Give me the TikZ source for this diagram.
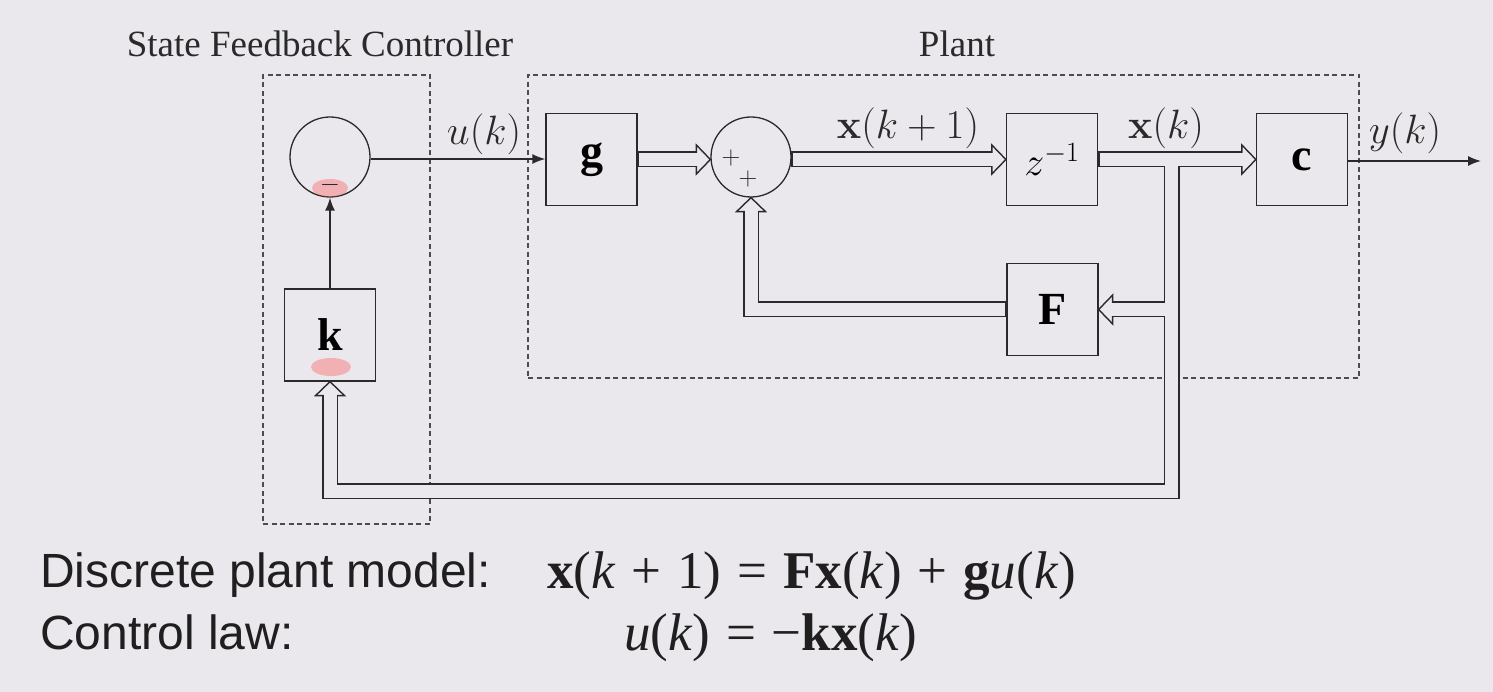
\RequirePackage{fix-cm}
\documentclass[tikz,border=0pt]{standalone}
\usepackage[no-math]{fontspec}
\setmainfont{Liberation Serif}
\newfontfamily\arialfont{Liberation Sans}
\usetikzlibrary{arrows.meta,calc}
\definecolor{bgc}{HTML}{EAE8EC}
\definecolor{ink}{HTML}{2A2A2A}
\newcommand\dhead[2]{\draw[head,shift={(#1)},rotate=#2] (0,-14.5) -- (14,0) -- (0,14.5) -- cycle;}
\newcommand\vi[1]{\textit{#1}}
\newcommand\vb[1]{\textbf{#1}}
\newcommand\op[1]{\hspace{0.3em}#1\hspace{0.3em}}
\begin{document}
\begin{tikzpicture}[x=1pt,y=-1pt,
  blk/.style={draw=ink, line width=1.3pt, minimum width=91pt, minimum height=92pt, inner sep=0pt, font=\fontsize{46}{50}\selectfont},
  sumc/.style={circle, draw=ink, line width=1.3pt, minimum size=80pt, inner sep=0pt},
  frame/.style={draw=black!70, dash pattern=on 5pt off 3.5pt, line width=1.2pt, inner sep=0pt},
  ttl/.style={font=\fontsize{37}{42}\selectfont, text=ink, anchor=base, inner sep=0pt},
  lbl/.style={font=\fontsize{41}{46}\selectfont, text=ink, inner sep=0pt},
  sig/.style={draw=ink, line width=1.5pt, -{Latex[length=13pt,width=10pt]}},
  chout/.style={draw=ink, line width=16pt, line join=miter},
  chin/.style={draw=bgc, line width=13pt, line join=miter},
  head/.style={fill=bgc, draw=ink, line width=1.4pt, line join=miter},
  bot/.style={font=\arialfont\fontsize{48}{54}\selectfont, text=black!88, anchor=base west, inner sep=0pt},
  eq/.style={font=\fontsize{53}{58}\selectfont, text=black!88, anchor=base west, inner sep=0pt},
  sgn/.style={font=\fontsize{26}{28}\selectfont, text=ink, inner sep=0pt},
  hl/.style={fill=red!70, opacity=0.35}
]
\fill[bgc] (0,0) rectangle (1493,692);

% frames
\node[frame, minimum width=167pt, minimum height=449pt] (ctl) at (346.5,299.5) {};
\node[frame, minimum width=831pt, minimum height=303pt] (plant) at (943.5,226.5) {};
\node[ttl] (tctl) at (320,57) {State Feedback Controller};
\node[ttl] (tplant) at (957,57) {Plant};

% blocks
\node[sumc] (s1) at (330,157) {};
\node[blk] (k) at (330,335) {\vb{k}};
\node[blk] (g) at (591.5,159.5) {\vb{g}};
\node[sumc] (s2) at (751,157) {};
\node[blk, font=\fontsize{40}{44}\selectfont] (z) at (1052,159.5) {$z^{-1}$};
\node[blk] (c) at (1302,159.5) {\vb{c}};
\node[blk] (F) at (1052.5,309.5) {\vb{F}};

% highlights
\fill[hl] (330,188) ellipse [x radius=18, y radius=9];
\fill[hl] (331,367) ellipse [x radius=20, y radius=9];
\node[sgn] (minus) at (330,185) {$-$};
\node[sgn] (p1) at (731,158) {$+$};
\node[sgn] (p2) at (748,179) {$+$};

% coordinates for channels
\coordinate (a1) at (s2.west |- g.east);
\coordinate (b2) at (s2.east |- z.west);
\coordinate (j1) at (1171.5,159.5);
\coordinate (j2) at (j1 |- F.east);
\coordinate (bR) at (1171.5,491);
\coordinate (bL) at (k.south |- bR);
\coordinate (fL) at (s2.south |- F.west);
\coordinate (h1) at ($(a1)+(-14,0)$);
\coordinate (h2) at ($(z.west)+(-14,0)$);
\coordinate (h3) at ($(c.west)+(-14,0)$);
\coordinate (h4) at ($(k.south)+(0,14)$);
\coordinate (h5) at ($(F.east)+(14,0)$);
\coordinate (h6) at ($(s2.south)+(0,14)$);

% outer pass
\draw[chout] (g.east) -- (h1);
\draw[chout] ($(b2)+(-1,0)$) -- (h2);
\draw[chout] (z.east) -- (h3);
\draw[chout] (j1) -- (bR) -- (bL) -- (h4);
\draw[chout] (j2) -- (h5);
\draw[chout] (F.west) -- (fL) -- (h6);
% heads
\dhead{h1}{0}
\dhead{h2}{0}
\dhead{h3}{0}
\dhead{h4}{90}
\dhead{h5}{180}
\dhead{h6}{90}
% inner pass
\draw[chin] ($(g.east)+(1.5,0)$) -- ($(h1)+(2.5,0)$);
\draw[chin] ($(b2)+(1,0)$) -- ($(h2)+(2.5,0)$);
\draw[chin] ($(z.east)+(1.5,0)$) -- ($(h3)+(2.5,0)$);
\draw[chin] (j1) -- (bR) -- (bL) -- ($(h4)+(0,-2.5)$);
\draw[chin] (j2) -- ($(h5)+(-2.5,0)$);
\draw[chin] ($(F.west)+(-1.5,0)$) -- (fL) -- ($(h6)+(0,-2.5)$);

% single-line signals
\draw[sig] (k.north) -- (s1.south);
\coordinate (uS) at ($(s1.east)+(0,2)$);
\draw[sig] (uS) -- (uS -| g.west);
\coordinate (yend) at (1481,161);
\draw[sig] (c.east |- yend) -- (yend);

% labels
\node[lbl] (lu) at (484,134) {$u(k)$};
\node[lbl] (lx1) at (908,128) {$\mathbf{x}(k+1)$};
\node[lbl] (lx) at (1166,128) {$\mathbf{x}(k)$};
\node[lbl] (ly) at (1405,133) {$y(k)$};

% bottom text
\node[bot] (t1) at (40,587) {Discrete plant model:};
\node[bot] (t2) at (40,649) {Control law:};
\node[eq] (e1) at (547,588) {\vb{x}(\vi{k}\op{+}1)\op{=}\vb{Fx}(\vi{k})\op{+}\vb{g}\vi{u}(\vi{k})};
\node[eq] (e2) at (624,650) {\vi{u}(\vi{k})\op{=}−\vb{kx}(\vi{k})};
\end{tikzpicture}
\end{document}
